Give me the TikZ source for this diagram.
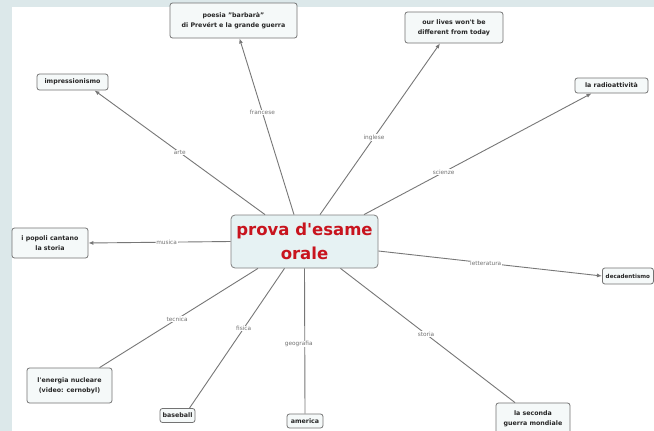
\documentclass[tikz,border=0pt]{standalone}
\usepackage{fontspec}
\setmainfont{DejaVu Sans}
\usetikzlibrary{arrows.meta,calc}
\definecolor{bgframe}{HTML}{DCE8EA}
\definecolor{boxfill}{HTML}{F5F9F9}
\definecolor{cfill}{HTML}{E6F2F3}
\definecolor{edgegray}{HTML}{777777}
\definecolor{ctext}{HTML}{C8141E}
\tikzset{
  concept/.style={draw=black!55, line width=0.8pt, fill=boxfill, rounded corners=2.5pt,
    inner sep=1pt, align=center, font=\fontsize{6.3}{10}\selectfont\bfseries, text=black!85},
  main/.style={draw=black!50, line width=0.8pt, fill=cfill, rounded corners=4pt,
    inner sep=0pt, align=center, font=\fontsize{16.5}{24}\selectfont\bfseries, text=ctext},
  link/.style={draw=edgegray, line width=0.9pt},
  arr/.style={link, -{Latex[length=5pt,width=4pt]}},
  lbl/.style={fill=white, inner sep=0.6pt, font=\fontsize{5.8}{6}\selectfont, text=black!55}
}
\begin{document}
\begin{tikzpicture}[x=1pt,y=-1pt]
\useasboundingbox (0,0) rectangle (654,431);
\fill[bgframe] (0,0) rectangle (654,431);
\fill[white] (12,7) rectangle (654,431);

\node[main, minimum width=147pt, minimum height=53pt] (c) at (304.5,241.5) {prova d\textquotesingle esame\\orale};

\node[concept, minimum width=127pt, minimum height=35pt] (poe) at (233.5,20.5) {poesia "barbarà"\\di Prevért e la grande guerra};
\node[concept, minimum width=71pt, minimum height=16pt] (imp) at (72.5,82) {impressionismo};
\node[concept, minimum width=98pt, minimum height=31pt] (our) at (454,27.5) {our lives won\textquotesingle t be\\different from today};
\node[concept, minimum width=73pt, minimum height=15pt] (rad) at (611.5,85.5) {la radioattività};
\node[concept, minimum width=76pt, minimum height=30pt] (pop) at (50,243) {i popoli cantano\\la storia};
\node[concept, minimum width=51pt, minimum height=16pt, inner sep=0.5pt, font=\fontsize{5.6}{7}\selectfont\bfseries, anchor=west] (dec) at (602,276) {decadentismo};
\node[concept, minimum width=85pt, minimum height=35pt] (ene) at (69.5,385.5) {l\textquotesingle energia nucleare\\(video: cernobyl)};
\node[concept, minimum width=35pt, minimum height=14pt] (base) at (177.5,415.5) {baseball};
\node[concept, minimum width=36pt, minimum height=14pt] (ame) at (305,421) {america};
\node[concept, minimum width=74pt, minimum height=31pt] (sec) at (533,418.5) {la seconda\\guerra mondiale};

\draw[arr] ([xshift=-39.5pt]c.north) -- node[lbl, pos=0.5] {arte} ([xshift=22pt]imp.south);
\draw[arr] ([xshift=-10.5pt]c.north) -- node[lbl, pos=0.58] {francese} ([xshift=6pt]poe.south);
\draw[arr] ([xshift=15.5pt]c.north) -- node[lbl, pos=0.45] {inglese} ([xshift=-14pt]our.south);
\draw[arr] ([xshift=59.5pt]c.north) -- node[lbl, pos=0.35] {scienze} ([xshift=-20pt]rad.south);
\draw[arr] (c.west) -- node[lbl, pos=0.45] {musica} (pop.east);
\draw[arr] ([yshift=-9.5pt]c.east) -- node[lbl, pos=0.48] {letteratura} (dec.west);
\draw[link] ([xshift=-46.5pt]c.south) -- node[lbl, pos=0.51] {tecnica} ([xshift=30pt]ene.north);
\draw[link] ([xshift=-20pt]c.south) -- node[lbl, pos=0.43] {fisica} ([xshift=12pt]base.north);
\draw[link] (c.south) -- node[lbl, pos=0.52, xshift=-6pt] {geografia} (ame.north);
\draw[link] ([xshift=36pt]c.south) -- node[lbl, pos=0.49] {storia} ([xshift=-18pt]sec.north);
\end{tikzpicture}
\end{document}
